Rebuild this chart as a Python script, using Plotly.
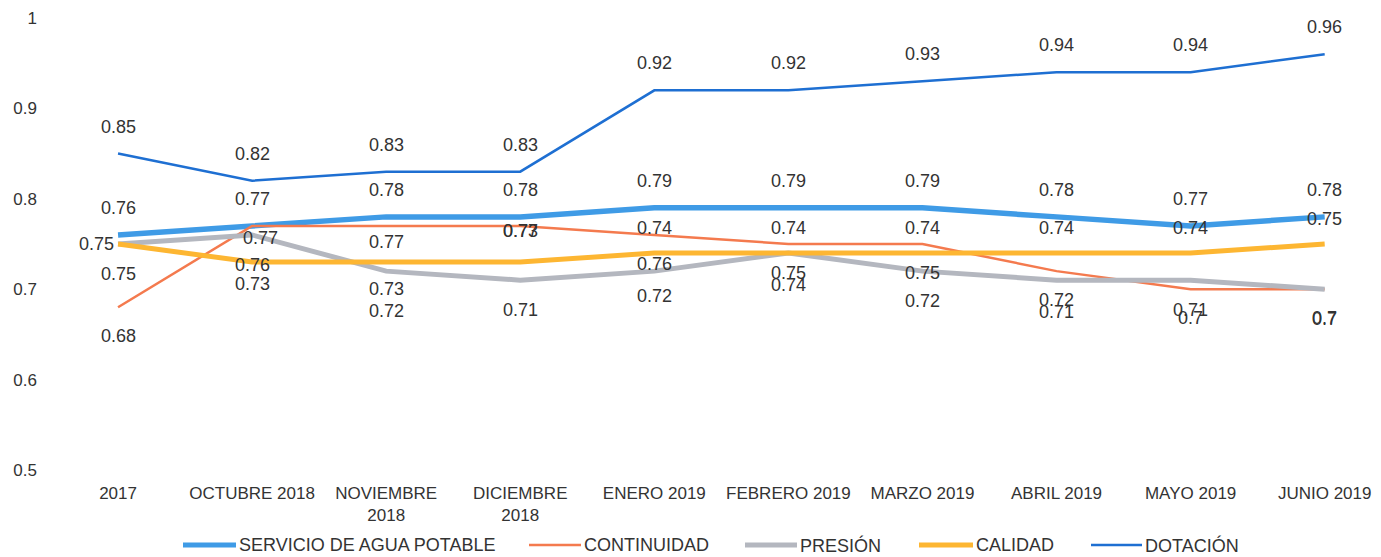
import plotly.graph_objects as go

categories = ["2017", "OCTUBRE 2018", "NOVIEMBRE 2018", "DICIEMBRE 2018", "ENERO 2019",
              "FEBRERO 2019", "MARZO 2019", "ABRIL 2019", "MAYO 2019", "JUNIO 2019"]
tick_labels = ["2017", "OCTUBRE 2018", "NOVIEMBRE<br>2018", "DICIEMBRE<br>2018", "ENERO 2019",
               "FEBRERO 2019", "MARZO 2019", "ABRIL 2019", "MAYO 2019", "JUNIO 2019"]

servicio = [0.76, 0.77, 0.78, 0.78, 0.79, 0.79, 0.79, 0.78, 0.77, 0.78]
continuidad = [0.68, 0.77, 0.77, 0.77, 0.76, 0.75, 0.75, 0.72, 0.70, 0.70]
presion = [0.75, 0.76, 0.72, 0.71, 0.72, 0.74, 0.72, 0.71, 0.71, 0.70]
calidad = [0.75, 0.73, 0.73, 0.73, 0.74, 0.74, 0.74, 0.74, 0.74, 0.75]
dotacion = [0.85, 0.82, 0.83, 0.83, 0.92, 0.92, 0.93, 0.94, 0.94, 0.96]

series = [
    ("SERVICIO DE AGUA POTABLE", servicio, "#3f9be6", 5.5),
    ("CONTINUIDAD", continuidad, "#f47a4e", 2.5),
    ("PRESIÓN", presion, "#b4b7bf", 5),
    ("CALIDAD", calidad, "#fdb632", 5),
    ("DOTACIÓN", dotacion, "#1e6fd2", 2.5),
]

# label offsets (pixels) per series: default, plus per-point overrides
default_shift = {
    "SERVICIO DE AGUA POTABLE": (0, 27),
    "CONTINUIDAD": (0, -29),
    "PRESIÓN": (0, -30),
    "CALIDAD": (0, 25),
    "DOTACIÓN": (0, 27),
}
overrides = {
    ("CALIDAD", 0): (-22, 0),
    ("CALIDAD", 1): (0, -22),
    ("CALIDAD", 2): (0, -27),
    ("CALIDAD", 3): (0, 31),
    ("CONTINUIDAD", 1): (8, -12),
    ("CONTINUIDAD", 2): (0, -16),
    ("CONTINUIDAD", 3): (0, -5),
    ("PRESIÓN", 2): (0, -40),
    ("PRESIÓN", 4): (0, -25),
    ("PRESIÓN", 5): (0, -32),
    ("PRESIÓN", 7): (0, -32),
}

FONT = "Liberation Sans, Arial, sans-serif"
TXT = "#333333"

# page body has an 8px margin: size the figure so the plot lands where the reference has it
PAGE_OFF = 8
W, H = 1381 - PAGE_OFF, 557 - PAGE_OFF
ML, MR, MT, MB = 51 - PAGE_OFF, 0, 18 - PAGE_OFF, 87
PW, PH = W - ML - MR, H - MT - MB

def px_to_paper_x(px):
    return (px - PAGE_OFF - ML) / PW

def py_to_paper_y(py):
    return (H - MB - (py - PAGE_OFF)) / PH

# manual legend layout (window pixel positions of swatch start/end)
legend_swatches = [(183, 236), (529, 581), (745, 797), (919, 973), (1091, 1142)]
legend_y = 545

fig = go.Figure()
annotations = []
shapes = []
for (name, vals, color, width), (sx0, sx1) in zip(series, legend_swatches):
    fig.add_trace(go.Scatter(
        x=categories, y=vals, mode="lines", name=name,
        line=dict(color=color, width=width), showlegend=False,
    ))
    for i, v in enumerate(vals):
        xs, ys = overrides.get((name, i), default_shift[name])
        annotations.append(dict(
            x=i, y=v, xref="x", yref="y", text=f"{v:g}", showarrow=False,
            xshift=xs, yshift=ys,
            font=dict(family=FONT, size=18, color=TXT),
        ))
    ly = py_to_paper_y(legend_y)
    shapes.append(dict(type="line", xref="paper", yref="paper",
                       x0=px_to_paper_x(sx0), x1=px_to_paper_x(sx1), y0=ly, y1=ly,
                       line=dict(color=color, width=min(width, 5))))
    annotations.append(dict(x=px_to_paper_x(sx1 + 1), y=ly, xref="paper", yref="paper",
                            text=name, showarrow=False, xanchor="left", yanchor="middle",
                            font=dict(family=FONT, size=18, color=TXT)))

fig.update_layout(
    width=W, height=H,
    paper_bgcolor="white", plot_bgcolor="white",
    margin=dict(l=ML, r=MR, t=MT, b=MB),
    font=dict(family=FONT, size=17, color=TXT),
    annotations=annotations, shapes=shapes,
    showlegend=False,
)
fig.update_xaxes(
    type="category", categoryorder="array", categoryarray=categories,
    tickmode="array", tickvals=categories, ticktext=tick_labels,
    range=[-0.5, 9.42], showgrid=False, showline=False, zeroline=False, ticks="",
    ticklabelstandoff=11,
    tickfont=dict(size=17, color=TXT), automargin=False,
)
fig.update_yaxes(
    range=[0.5, 1.0], tickvals=[0.5, 0.6, 0.7, 0.8, 0.9, 1.0],
    ticktext=["0.5", "0.6", "0.7", "0.8", "0.9", "1"],
    showgrid=False, showline=False, zeroline=False, ticks="",
    ticklabelstandoff=13, automargin=False,
    tickfont=dict(size=17, color=TXT),
)

fig.write_html("out.html")
